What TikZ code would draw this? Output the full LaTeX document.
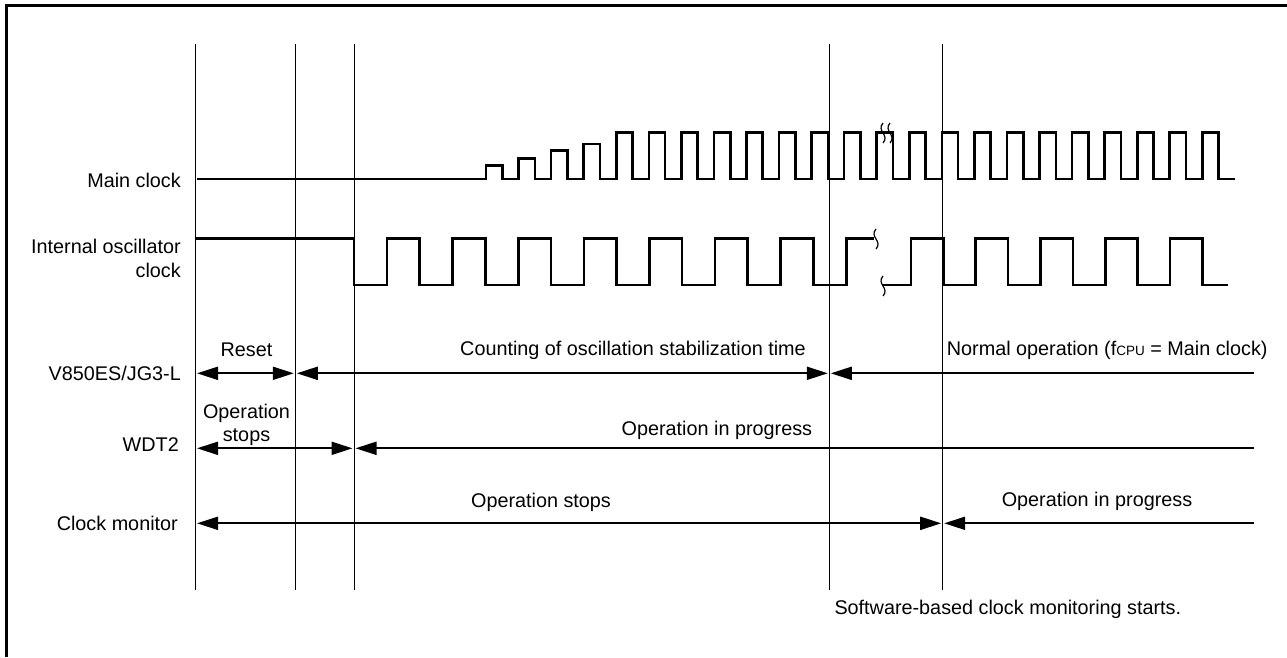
\documentclass[tikz,border=0pt]{standalone}
\usepackage{fontspec}
\setmainfont{Liberation Sans}
\usetikzlibrary{arrows.meta}
\begin{document}
\begin{tikzpicture}[x=1pt,y=-1pt,
  wave/.style={line width=2.6pt, line join=miter},
  vline/.style={line width=1pt},
  frameline/.style={line width=3pt},
  span/.style={line width=2pt},
  squig/.style={line width=1.2pt},
  lbl/.style={font=\fontsize{19.8}{23}\selectfont, inner sep=0pt},
  >={Triangle[length=21pt,width=13pt]},
]
\useasboundingbox (0,0) rectangle (1287,657);
% frame
\draw[frameline] (6.3,657) -- (6.3,5.5) -- (1287,5.5);

% vertical time markers
\foreach \n/\x in {1/195.5,2/295.3,3/354,4/829.3,5/942.7}{
  \coordinate (t\n) at (\x,44);
  \coordinate (b\n) at (\x,590);
  \draw[vline] (t\n) -- (b\n);
}

% main clock
\draw[wave] (197,179) -- (486,179)
  foreach \i/\h in {0/165.7,1/158.3,2/150.7,3/144}{
    -- ({486+32.56*\i},179) -- ({486+32.56*\i},\h) -- ({502.3+32.56*\i},\h) -- ({502.3+32.56*\i},179)
  }
  foreach \i in {4,...,22}{
    -- ({486+32.56*\i},179) -- ({486+32.56*\i},132.3) -- ({502.3+32.56*\i},132.3) -- ({502.3+32.56*\i},179)
  }
  -- (1235,179);
\draw[squig] (883,123) .. controls (876,131) and (890,135) .. (883,143);
\draw[squig] (890,123) .. controls (883,131) and (897,135) .. (890,143);

% internal oscillator clock
\draw[wave] (195,238.3) -- (354,238.3)
  foreach \i in {0,...,7}{
    -- ({354+65.6*\i},238.3) -- ({354+65.6*\i},285) -- ({387+65.6*\i},285) -- ({387+65.6*\i},238.3)
  }
  -- (874,238.3);
\draw[squig] (876,229) .. controls (869,237) and (883,241) .. (876,249);
\draw[wave] (882,285)
  foreach \i in {0,...,4}{
    -- ({911+64.75*\i},285) -- ({911+64.75*\i},238.3) -- ({943.4+64.75*\i},238.3) -- ({943.4+64.75*\i},285)
  }
  -- (1228,285);
\draw[squig] (883,276) .. controls (876,284) and (890,288) .. (883,296);

% signal names
\node[lbl, anchor=base east] (lmain) at (181,187) {Main clock};
\node[lbl, anchor=base east] (losca) at (181,253) {Internal oscillator};
\node[lbl, anchor=base east] (loscb) at (181,277) {clock};
\node[lbl, anchor=base east] (lv) at (181,380) {V850ES/JG3-L};
\node[lbl, anchor=base east] (lw) at (179,451.7) {WDT2};
\node[lbl, anchor=base east] (lc) at (178,530) {Clock monitor};

% V850ES row
\coordinate (va) at (197,373.3);
\coordinate (vb) at (293.8,373.3);
\coordinate (vc) at (296.8,373.3);
\coordinate (vd) at (827.8,373.3);
\coordinate (ve) at (830.8,373.3);
\coordinate (vf) at (1254,373.3);
\draw[span,<->] (va) -- (vb);
\draw[span,<->] (vc) -- (vd);
\draw[span,<-] (ve) -- (vf);
\node[lbl, anchor=base] (treset) at (246.5,356.7) {Reset};
\node[lbl, anchor=base] (tcount) at (633,355) {Counting of oscillation stabilization time};
\node[lbl, anchor=base west] (tnormal) at (946.7,355) {Normal operation (f{\fontsize{13.5}{14}\selectfont CPU} = Main clock)};

% WDT2 row
\coordinate (wa) at (197,448.3);
\coordinate (wb) at (352.5,448.3);
\coordinate (wc) at (355.5,448.3);
\coordinate (wd) at (1254,448.3);
\draw[span,<->] (wa) -- (wb);
\draw[span,<-] (wc) -- (wd);
\node[lbl, anchor=base] (tstopa) at (246.5,418.7) {Operation};
\node[lbl, anchor=base] (tstopb) at (246.5,441.7) {stops};
\node[lbl, anchor=base east] (tprogw) at (812.3,435) {Operation in progress};

% clock monitor row
\coordinate (ca) at (197,523.3);
\coordinate (cb) at (941.2,523.3);
\coordinate (cc) at (944.2,523.3);
\coordinate (cd) at (1254,523.3);
\draw[span,<->] (ca) -- (cb);
\draw[span,<-] (cc) -- (cd);
\node[lbl, anchor=base] (tstopc) at (541,507) {Operation stops};
\node[lbl, anchor=base] (tprogc) at (1097,506) {Operation in progress};

\node[lbl, anchor=base west] (tsoft) at (834.3,614) {Software-based clock monitoring starts.};
\end{tikzpicture}
\end{document}
